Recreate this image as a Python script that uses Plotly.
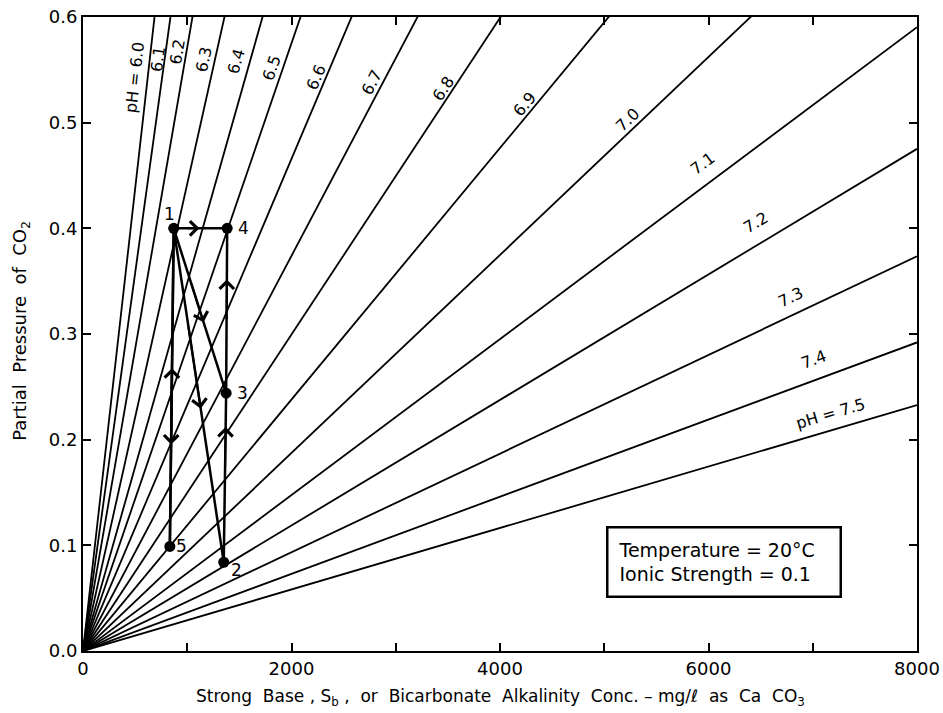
import math
import plotly.graph_objects as go

# ---------------- data ----------------
ph_labels = ["pH = 6.0", "6.1", "6.2", "6.3", "6.4", "6.5", "6.6", "6.7",
             "6.8", "6.9", "7.0", "7.1", "7.2", "7.3", "7.4", "pH = 7.5"]
# partial pressure of CO2 per 1000 mg/l alkalinity (slope of each pH line)
pco2_per_1000 = [0.8746, 0.7151, 0.5714, 0.4422, 0.3484, 0.2876, 0.2329, 0.1870,
                 0.1498, 0.1190, 0.0937, 0.0738, 0.0594, 0.0467, 0.0365, 0.0291]

# process points
pt_labels = ["1", "2", "3", "4", "5"]
pt_alk = [870, 1350, 1373, 1383, 833]
pt_pco2 = [0.400, 0.084, 0.244, 0.400, 0.099]

# process steps (from point, to point) and where the arrow sits on each
steps = [("1", "4"), ("1", "3"), ("1", "2"), ("1", "5"), ("5", "1"), ("2", "3"), ("3", "4")]
arrow_frac = [0.48, 0.57, 0.54, 0.68, 0.56, 0.80, 0.69]

x_tick_vals = [0, 1000, 2000, 3000, 4000, 5000, 6000, 7000, 8000]
x_tick_text = ["0", "", "2000", "", "4000", "", "6000", "", "8000"]

# ---------------- layout / placement ----------------
X_MAX, Y_MAX = 8000, 0.6
W, H = 943, 713
ML, MR, MT, MB = 83, 26, 17, 62
PW, PH = W - ML - MR, H - MT - MB
px_per_x = PW / X_MAX
px_per_y = PH / Y_MAX

# label placement along each line (alkalinity) and gap from the line (px)
label_alk = [619, 782, 989, 1261, 1591, 1906, 2317, 2854, 3523, 4300, 5293, 6055, 6553, 6852, 7073, 7216]
label_gap = [13, 7, 9, 11, 13, 11, 9.5, 10, 8, 9, 10, 19, 20, 17, 20, 16]

FONT = "DejaVu Sans"
fig = go.Figure()

# pH lines
for lab, s in zip(ph_labels, pco2_per_1000):
    fig.add_trace(go.Scatter(
        x=[0, X_MAX], y=[0, s * X_MAX / 1000], mode="lines",
        line=dict(color="black", width=1.8), showlegend=False, hoverinfo="skip"))

annotations = []
for lab, s, la, gap in zip(ph_labels, pco2_per_1000, label_alk, label_gap):
    theta = math.atan(s / 1000 * px_per_y / px_per_x)
    annotations.append(dict(
        x=la, y=s * la / 1000, xref="x", yref="y", text=lab, showarrow=False,
        textangle=-math.degrees(theta),
        xshift=-gap * math.sin(theta), yshift=gap * math.cos(theta),
        font=dict(family=FONT, size=16, color="black")))

# process path
idx = {k: i for i, k in enumerate(pt_labels)}
for (a, b), f in zip(steps, arrow_frac):
    xa, ya = pt_alk[idx[a]], pt_pco2[idx[a]]
    xb, yb = pt_alk[idx[b]], pt_pco2[idx[b]]
    fig.add_trace(go.Scatter(
        x=[xa, xb], y=[ya, yb], mode="lines",
        line=dict(color="black", width=2.5), showlegend=False, hoverinfo="skip"))
    hx, hy = xa + f * (xb - xa), ya + f * (yb - ya)
    tf = f - 0.25
    tx, ty = xa + tf * (xb - xa), ya + tf * (yb - ya)
    annotations.append(dict(
        x=hx, y=hy, ax=tx, ay=ty, xref="x", yref="y", axref="x", ayref="y",
        text="", showarrow=True, arrowhead=4, arrowsize=1.4, arrowwidth=2,
        arrowcolor="black"))

fig.add_trace(go.Scatter(
    x=pt_alk, y=pt_pco2, mode="markers",
    marker=dict(color="black", size=11), showlegend=False, hoverinfo="skip"))

pt_shift = {"1": (-4, 14), "2": (13, -8), "3": (16, 0), "4": (16, 0), "5": (12, 0)}
for lab, x, y in zip(pt_labels, pt_alk, pt_pco2):
    dx, dy = pt_shift[lab]
    annotations.append(dict(
        x=x, y=y, xref="x", yref="y", text=lab, showarrow=False,
        xshift=dx, yshift=dy, font=dict(family=FONT, size=17, color="black")))

# info box
annotations.append(dict(
    x=(606 - ML) / PW, y=(651 - 598) / PH, xref="paper", yref="paper",
    xanchor="left", yanchor="bottom", showarrow=False, align="left",
    text="Temperature = 20°C<br>Ionic Strength = 0.1",
    font=dict(family=FONT, size=19, color="black"),
    bordercolor="black", borderwidth=2.5, borderpad=10, bgcolor="white", width=211))

# axis titles
annotations.append(dict(
    x=0.5, y=-(697 - 651) / PH, xref="paper", yref="paper", showarrow=False,
    xanchor="center", yanchor="middle",
    text="Strong\u00a0 Base\u00a0, S<sub>b</sub>\u00a0,\u00a0 or\u00a0 Bicarbonate\u00a0 Alkalinity\u00a0 "
         "Conc. – mg/ℓ\u00a0 as\u00a0 Ca\u00a0 CO<sub>3</sub>",
    font=dict(family=FONT, size=17, color="black")))
annotations.append(dict(
    x=-(ML - 21) / PW, y=0.505, xref="paper", yref="paper", showarrow=False,
    xanchor="center", yanchor="middle", textangle=-90,
    text="Partial\u00a0 Pressure\u00a0 of\u00a0 CO<sub>2</sub>",
    font=dict(family=FONT, size=18, color="black")))

axis_common = dict(
    showgrid=False, zeroline=False, showline=True, linecolor="black", linewidth=2,
    mirror="allticks", ticks="inside", ticklen=8, tickwidth=1.5, tickcolor="black",
    automargin=False, tickfont=dict(family=FONT, size=18, color="black"))

fig.update_layout(
    width=W, height=H, margin=dict(l=ML, r=MR, t=MT, b=MB, autoexpand=False),
    paper_bgcolor="white", plot_bgcolor="white",
    xaxis=dict(range=[0, X_MAX], tickvals=x_tick_vals, ticktext=x_tick_text, **axis_common),
    yaxis=dict(range=[0, Y_MAX], dtick=0.1, tick0=0, tickformat=".1f", **axis_common),
    annotations=annotations, showlegend=False)

fig.write_html("out.html",
               config={"displayModeBar": False},
               post_script="document.body.style.margin='0px';document.body.style.padding='0px';")
